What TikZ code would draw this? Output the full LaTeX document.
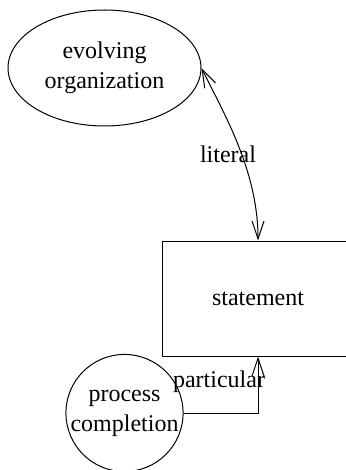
\documentclass[tikz,border=0pt]{standalone}
\usepackage{fontspec}
\setmainfont{Liberation Serif}
\usetikzlibrary{arrows.meta,shapes.geometric}
\begin{document}
\begin{tikzpicture}[x=0.5pt, y=-0.5pt, line width=0.5pt,
    font=\fontsize{12}{15}\selectfont,
    >={Straight Barb[length=9pt,width=6pt]},
    blob/.style={draw, ellipse, inner sep=0pt, align=center},
    box/.style={draw, rectangle, inner sep=0pt, align=center}]
    \useasboundingbox (0,0) rectangle (345,470);
    \node[blob, minimum width=96.5pt, minimum height=58pt] (evolving) at (104.5,68) {evolving\\organization};
    \node[box, minimum width=96pt, minimum height=57.5pt] (statement) at (258,298.5) {statement};
    \node[draw, circle, inner sep=0pt, minimum size=57.5pt, align=center] (process) at (124.5,413) {process\\completion};
    \draw[<->] (evolving.east) .. controls +(22,45) and +(0,-70) .. (statement.north);
    \draw[->] (process.east) -| (statement.south);
    \node (literal) at (228,154) {literal};
    \node (particular) at (219,382) {particular};
\end{tikzpicture}
\end{document}
